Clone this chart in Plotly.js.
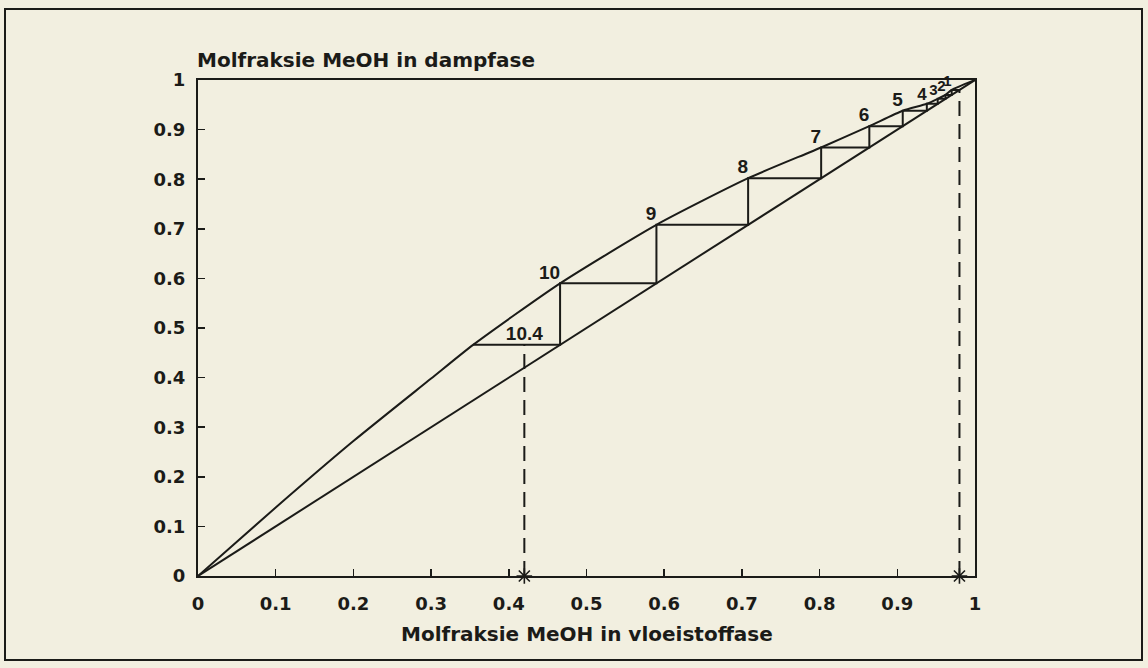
<!DOCTYPE html>
<html>
<head>
<meta charset="utf-8">
<script src="https://cdn.plot.ly/plotly-3.0.1.min.js"></script>
<style>
  html, body { margin: 0; padding: 0; background: #f2efe0; }
  #chart { width: 1148px; height: 668px; }
</style>
</head>
<body>
<div id="chart"></div>
<script>
// Composition data (mole fraction MeOH)
const xD = 0.98;   // top product
const xW = 0.42;   // bottom product

// Equilibrium curve (liquid x, vapour y)
const eqX = [0, 0.1, 0.2, 0.3, 0.354, 0.466, 0.590, 0.708, 0.802, 0.864, 0.907, 0.938, 0.952, 0.962, 0.970, 1];
const eqY = [0, 0.138, 0.272, 0.398, 0.466, 0.590, 0.708, 0.802, 0.864, 0.907, 0.938, 0.952, 0.962, 0.970, 0.980, 1];

// Operating line (total reflux: diagonal)
const opX = [0, 1];
const opY = [0, 1];

// Stage points on the equilibrium curve
const stageLabels = ['1', '2', '3', '4', '5', '6', '7', '8', '9', '10'];
const stageX = [0.970, 0.962, 0.952, 0.938, 0.907, 0.864, 0.802, 0.708, 0.590, 0.466];
const stageY = [0.980, 0.970, 0.962, 0.952, 0.938, 0.907, 0.864, 0.802, 0.708, 0.590];
const fracLabel = '10.4';
const fracX = 0.354;
const fracY = 0.466;

const xTickVals = [0, 0.1, 0.2, 0.3, 0.4, 0.5, 0.6, 0.7, 0.8, 0.9, 1];
const xTickText = ['0', '0.1', '0.2', '0.3', '0.4', '0.5', '0.6', '0.7', '0.8', '0.9', '1'];
const yTickVals = [0, 0.1, 0.2, 0.3, 0.4, 0.5, 0.6, 0.7, 0.8, 0.9, 1];
const yTickText = ['0', '0.1', '0.2', '0.3', '0.4', '0.5', '0.6', '0.7', '0.8', '0.9', '1'];

const xTitle = 'Molfraksie MeOH in vloeistoffase';
const yTitle = 'Molfraksie MeOH in dampfase';

// --- build staircase from stage data ---
const stepX = [xD];
const stepY = [xD];
for (let i = 0; i < stageX.length; i++) {
  stepX.push(stageX[i]); stepY.push(stageY[i]);   // horizontal to curve
  const nextY = (i + 1 < stageX.length) ? stageY[i + 1] : fracY;
  stepX.push(stageX[i]); stepY.push(nextY);       // vertical down to operating line
}
stepX.push(fracX); stepY.push(fracY);

const ink = '#1b1b18';
const bg = '#f2efe0';
const tickFont = { family: 'DejaVu Sans, sans-serif', size: 18, color: ink, weight: 'bold' };
// crowded labels near the top are set a little smaller
const labSizes = stageLabels.map((s, i) => (i < 3 ? 15 : (i === 3 ? 17 : 19)));
const labFont = { family: 'Arial', size: labSizes, color: ink, weight: 'bold' };
const fracFont = { family: 'Arial', size: 19, color: ink, weight: 'bold' };

const traces = [
  { x: eqX, y: eqY, mode: 'lines', line: { color: ink, width: 2, shape: 'spline', smoothing: 0.6 }, hoverinfo: 'skip', showlegend: false },
  { x: opX, y: opY, mode: 'lines', line: { color: ink, width: 2 }, hoverinfo: 'skip', showlegend: false },
  { x: stepX, y: stepY, mode: 'lines', line: { color: ink, width: 2 }, hoverinfo: 'skip', showlegend: false },
  { x: [xW, xW], y: [0, fracY], mode: 'lines', line: { color: ink, width: 2, dash: '15px,8px' }, hoverinfo: 'skip', showlegend: false },
  { x: [xD, xD], y: [0, xD], mode: 'lines', line: { color: ink, width: 2, dash: '15px,8px' }, hoverinfo: 'skip', showlegend: false },
  { x: [xW, xD], y: [0, 0], mode: 'markers', cliponaxis: false,
    marker: { symbol: 'asterisk-open', size: 13, color: ink, line: { color: ink, width: 1.6 } },
    hoverinfo: 'skip', showlegend: false },
  { x: stageX, y: stageY, mode: 'text', text: stageLabels, textposition: 'top left',
    textfont: labFont, cliponaxis: false, hoverinfo: 'skip', showlegend: false },
  { x: [xW], y: [fracY], mode: 'text', text: [fracLabel], textposition: 'top center',
    textfont: fracFont, cliponaxis: false, hoverinfo: 'skip', showlegend: false }
];

const axisCommon = {
  range: [0, 1],
  showgrid: false,
  zeroline: false,
  showline: true,
  mirror: true,
  linecolor: ink,
  linewidth: 2,
  ticks: 'inside',
  ticklen: 7,
  tickwidth: 1.5,
  tickcolor: ink,
  tickmode: 'array',
  tickfont: tickFont,
  fixedrange: true
};

const L = 198, R = 173, T = 80, B = 92;
const PW = 1148 - L - R, PH = 668 - T - B;
const px = v => (v - L) / PW;
const py = v => (668 - B - v) / PH;

const layout = {
  width: 1148,
  height: 668,
  margin: { l: L, r: R, t: T, b: B, pad: 0 },
  paper_bgcolor: bg,
  plot_bgcolor: bg,
  xaxis: Object.assign({}, axisCommon, { tickvals: xTickVals, ticktext: xTickText, ticklabelstandoff: 10 }),
  yaxis: Object.assign({}, axisCommon, { tickvals: yTickVals, ticktext: yTickText, ticklabelstandoff: 7 }),
  annotations: [
    { text: yTitle, xref: 'paper', yref: 'paper', x: px(195), y: py(60), xanchor: 'left', yanchor: 'middle',
      showarrow: false, font: { family: 'DejaVu Sans, sans-serif', size: 20, color: ink, weight: 'bold' } },
    { text: xTitle, xref: 'paper', yref: 'paper', x: 0.5, y: py(634), xanchor: 'center', yanchor: 'middle',
      showarrow: false, font: { family: 'DejaVu Sans, sans-serif', size: 20, color: ink, weight: 'bold' } }
  ],
  shapes: [
    { type: 'rect', xref: 'paper', yref: 'paper', x0: px(5), x1: px(1142), y0: py(660), y1: py(9),
      line: { color: ink, width: 2 }, layer: 'below' }
  ]
};

Plotly.newPlot('chart', traces, layout, { displayModeBar: false, staticPlot: true });
</script>
</body>
</html>
